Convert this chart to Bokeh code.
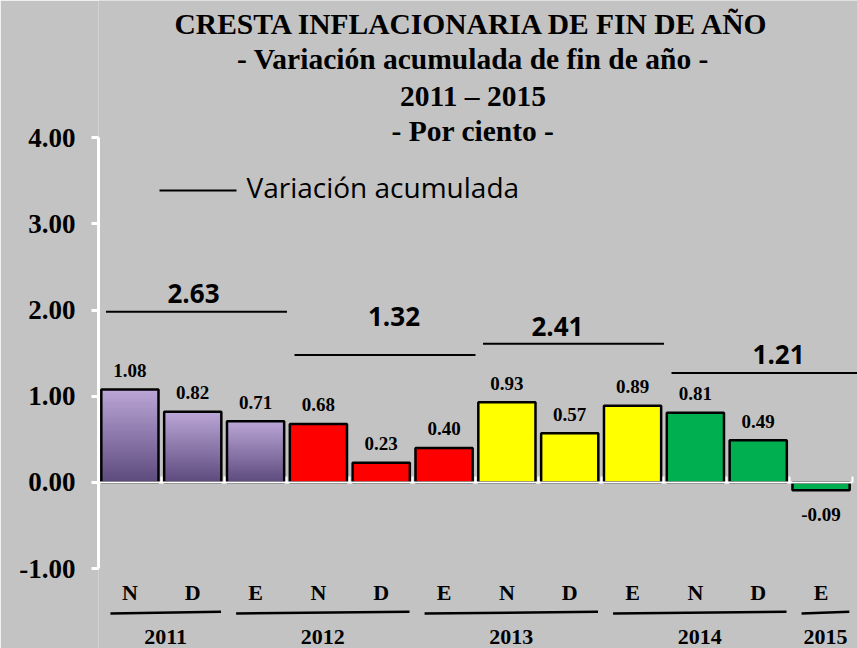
import numpy as np
from bokeh.plotting import figure
from bokeh.models import Range1d, LinearAxis, FixedTicker, NumeralTickFormatter
from bokeh.core.properties import value
from bokeh.embed import file_html
from bokeh.resources import INLINE

# ---------------- data ----------------
months = ["N", "D", "E", "N", "D", "E", "N", "D", "E", "N", "D", "E"]
values = [1.08, 0.82, 0.71, 0.68, 0.23, 0.40, 0.93, 0.57, 0.89, 0.81, 0.49, -0.09]
season_of_bar = [0, 0, 0, 1, 1, 1, 2, 2, 2, 3, 3, 3]
acc_values = [2.63, 1.32, 2.41, 1.21]
years = ["2011", "2012", "2013", "2014", "2015"]
year_first = [0, 2, 5, 8, 11]
year_last = [1, 4, 7, 10, 11]
y_ticks = [-1, 0, 1, 2, 3, 4]
title_lines = ["CRESTA INFLACIONARIA DE FIN DE AÑO",
               "- Variación acumulada de fin de año -",
               "2011 \u2013 2015",
               "- Por ciento -"]
legend_label = "Variación acumulada"

# ---------------- style / layout ----------------
BG = "#C3C3C3"
season_colors = ["#8B70AE", "#FF0000", "#FFFF00", "#00B050"]
season_gradient = [True, False, False, False]
grad_dark, grad_light = (0x5D, 0x4A, 0x7C), (0xBC, 0xA6, 0xD8)
SERIF = value("Liberation Serif")
SANS = value("Open Sans")
BAR_W = 0.91
PX = 1 / 86.2          # one screen pixel in y data units

def up(px):
    return px * PX

title_x = 5.46
title_y = [5.209, 4.803, 4.374, 3.968]
acc_line_y = [1.98, 1.48, 1.61, 1.27]
acc_label_x = [1.012, 4.203, 6.805, 10.323]
acc_label_y = [2.088, 1.81, 1.705, 1.369]

n = len(values)
idx = list(range(n))

p = figure(width=857, height=648,
           x_range=Range1d(-0.5, 11.58), y_range=Range1d(-1.9258, 5.5916),
           output_backend="svg", toolbar_location=None,
           x_axis_location=None, y_axis_location=None,
           background_fill_color=BG, border_fill_color=BG, outline_line_color=None,
           min_border_left=98, min_border_right=0, min_border_top=0, min_border_bottom=0)
p.grid.visible = False

# y axis
yaxis = LinearAxis(ticker=FixedTicker(ticks=y_ticks),
                   formatter=NumeralTickFormatter(format="0.00"),
                   bounds=(min(y_ticks), max(y_ticks)))
yaxis.axis_line_color = "white"
yaxis.axis_line_width = 3
yaxis.major_tick_line_color = "white"
yaxis.major_tick_line_width = 3
yaxis.major_tick_out = 7
yaxis.major_tick_in = 0
yaxis.minor_tick_line_color = None
yaxis.major_label_standoff = 16
yaxis.major_label_text_font = "Liberation Serif"
yaxis.major_label_text_font_style = "bold"
yaxis.major_label_text_font_size = "27px"
yaxis.major_label_text_color = "black"
p.add_layout(yaxis, "left")

# gradient fill for the first season's bars
sl_l, sl_r, sl_b, sl_t, sl_c = [], [], [], [], []
NS = 40
for i, v in enumerate(values):
    if not season_gradient[season_of_bar[i]]:
        continue
    for k in range(NS):
        t = (k + 0.5) / NS
        rgb = tuple(int(round(d + (l - d) * t)) for d, l in zip(grad_dark, grad_light))
        sl_l.append(i - BAR_W / 2)
        sl_r.append(i + BAR_W / 2)
        sl_b.append(v * k / NS)
        sl_t.append(min(v, v * (k + 1.6) / NS))
        sl_c.append("#%02x%02x%02x" % rgb)
p.quad(left=sl_l, right=sl_r, bottom=sl_b, top=sl_t, fill_color=sl_c, line_color=None)

# bars
bar_colors = [season_colors[s] for s in season_of_bar]
bar_alpha = [0.0 if season_gradient[s] else 1.0 for s in season_of_bar]
p.vbar(x=idx, top=values, bottom=0, width=BAR_W, fill_color=bar_colors, fill_alpha=bar_alpha,
       line_color="black", line_width=2.5)

# zero line with category ticks
xaxis = LinearAxis(fixed_location=0,
                   ticker=FixedTicker(ticks=[i - 0.5 for i in range(n + 1)]))
xaxis.axis_line_color = "white"
xaxis.axis_line_width = 2
xaxis.major_tick_line_color = "white"
xaxis.major_tick_line_width = 2
xaxis.major_tick_in = 6
xaxis.major_tick_out = 0
xaxis.minor_tick_line_color = None
xaxis.major_label_text_alpha = 0
xaxis.major_label_text_font_size = "1px"
xaxis.bounds = (-0.5, n - 0.5)
p.add_layout(xaxis, "below")

# value labels
lab_y = [(v + 0.13 if v >= 0 else v - 0.374) + up(8) for v in values]
p.text(x=idx, y=lab_y, text=["%.2f" % v for v in values], text_font=SERIF,
       text_font_style="bold", text_font_size="19px", text_align="center",
       text_baseline="alphabetic", text_color="black")

# accumulated variation per season
acc_x0 = [3 * s - 0.5 + 0.12 for s in range(len(acc_values))]
acc_x1 = [3 * s + 2.5 + (0.1 if s == len(acc_values) - 1 else 0.0) for s in range(len(acc_values))]
p.segment(x0=acc_x0, x1=acc_x1, y0=acc_line_y, y1=acc_line_y, line_color="black", line_width=2)
p.text(x=acc_label_x, y=[y + up(9.5) for y in acc_label_y], text=["%.2f" % v for v in acc_values],
       text_font=SANS, text_font_style="bold", text_font_size="26px", text_align="center",
       text_baseline="alphabetic", text_color="black")

# legend
p.segment(x0=[0.471], x1=[1.696], y0=[3.387], y1=[3.387], line_color="black", line_width=2)
p.text(x=[1.855], y=[3.306 + up(11)], text=[legend_label], text_font=SANS, text_font_size="28px",
       text_align="left", text_baseline="alphabetic", text_color="black")

# titles
p.text(x=[title_x] * len(title_lines), y=[y + up(9.5) for y in title_y], text=title_lines,
       text_font=SERIF, text_font_style="bold", text_font_size="29.5px", text_align="center",
       text_baseline="alphabetic", text_color="black")

# month labels
p.text(x=idx, y=[-1.392 + up(10)] * n, text=months, text_font=SERIF, text_font_style="bold",
       text_font_size="22px", text_align="center", text_baseline="alphabetic", text_color="black")

# year separators and labels
yx0 = [f - 0.5 + 0.19 for f in year_first]
yx1 = [l + 0.5 - 0.05 for l in year_last]
p.segment(x0=yx0, x1=yx1, y0=[-1.52] * len(years), y1=[-1.50] * len(years),
          line_color="black", line_width=2.5)
p.text(x=[(a + b) / 2 for a, b in zip(yx0, yx1)], y=[-1.903 + up(10)] * len(years), text=years,
       text_font=SERIF, text_font_style="bold", text_font_size="22px", text_align="center",
       text_baseline="alphabetic", text_color="black")

open("out.html", "w").write(file_html(p, INLINE))
